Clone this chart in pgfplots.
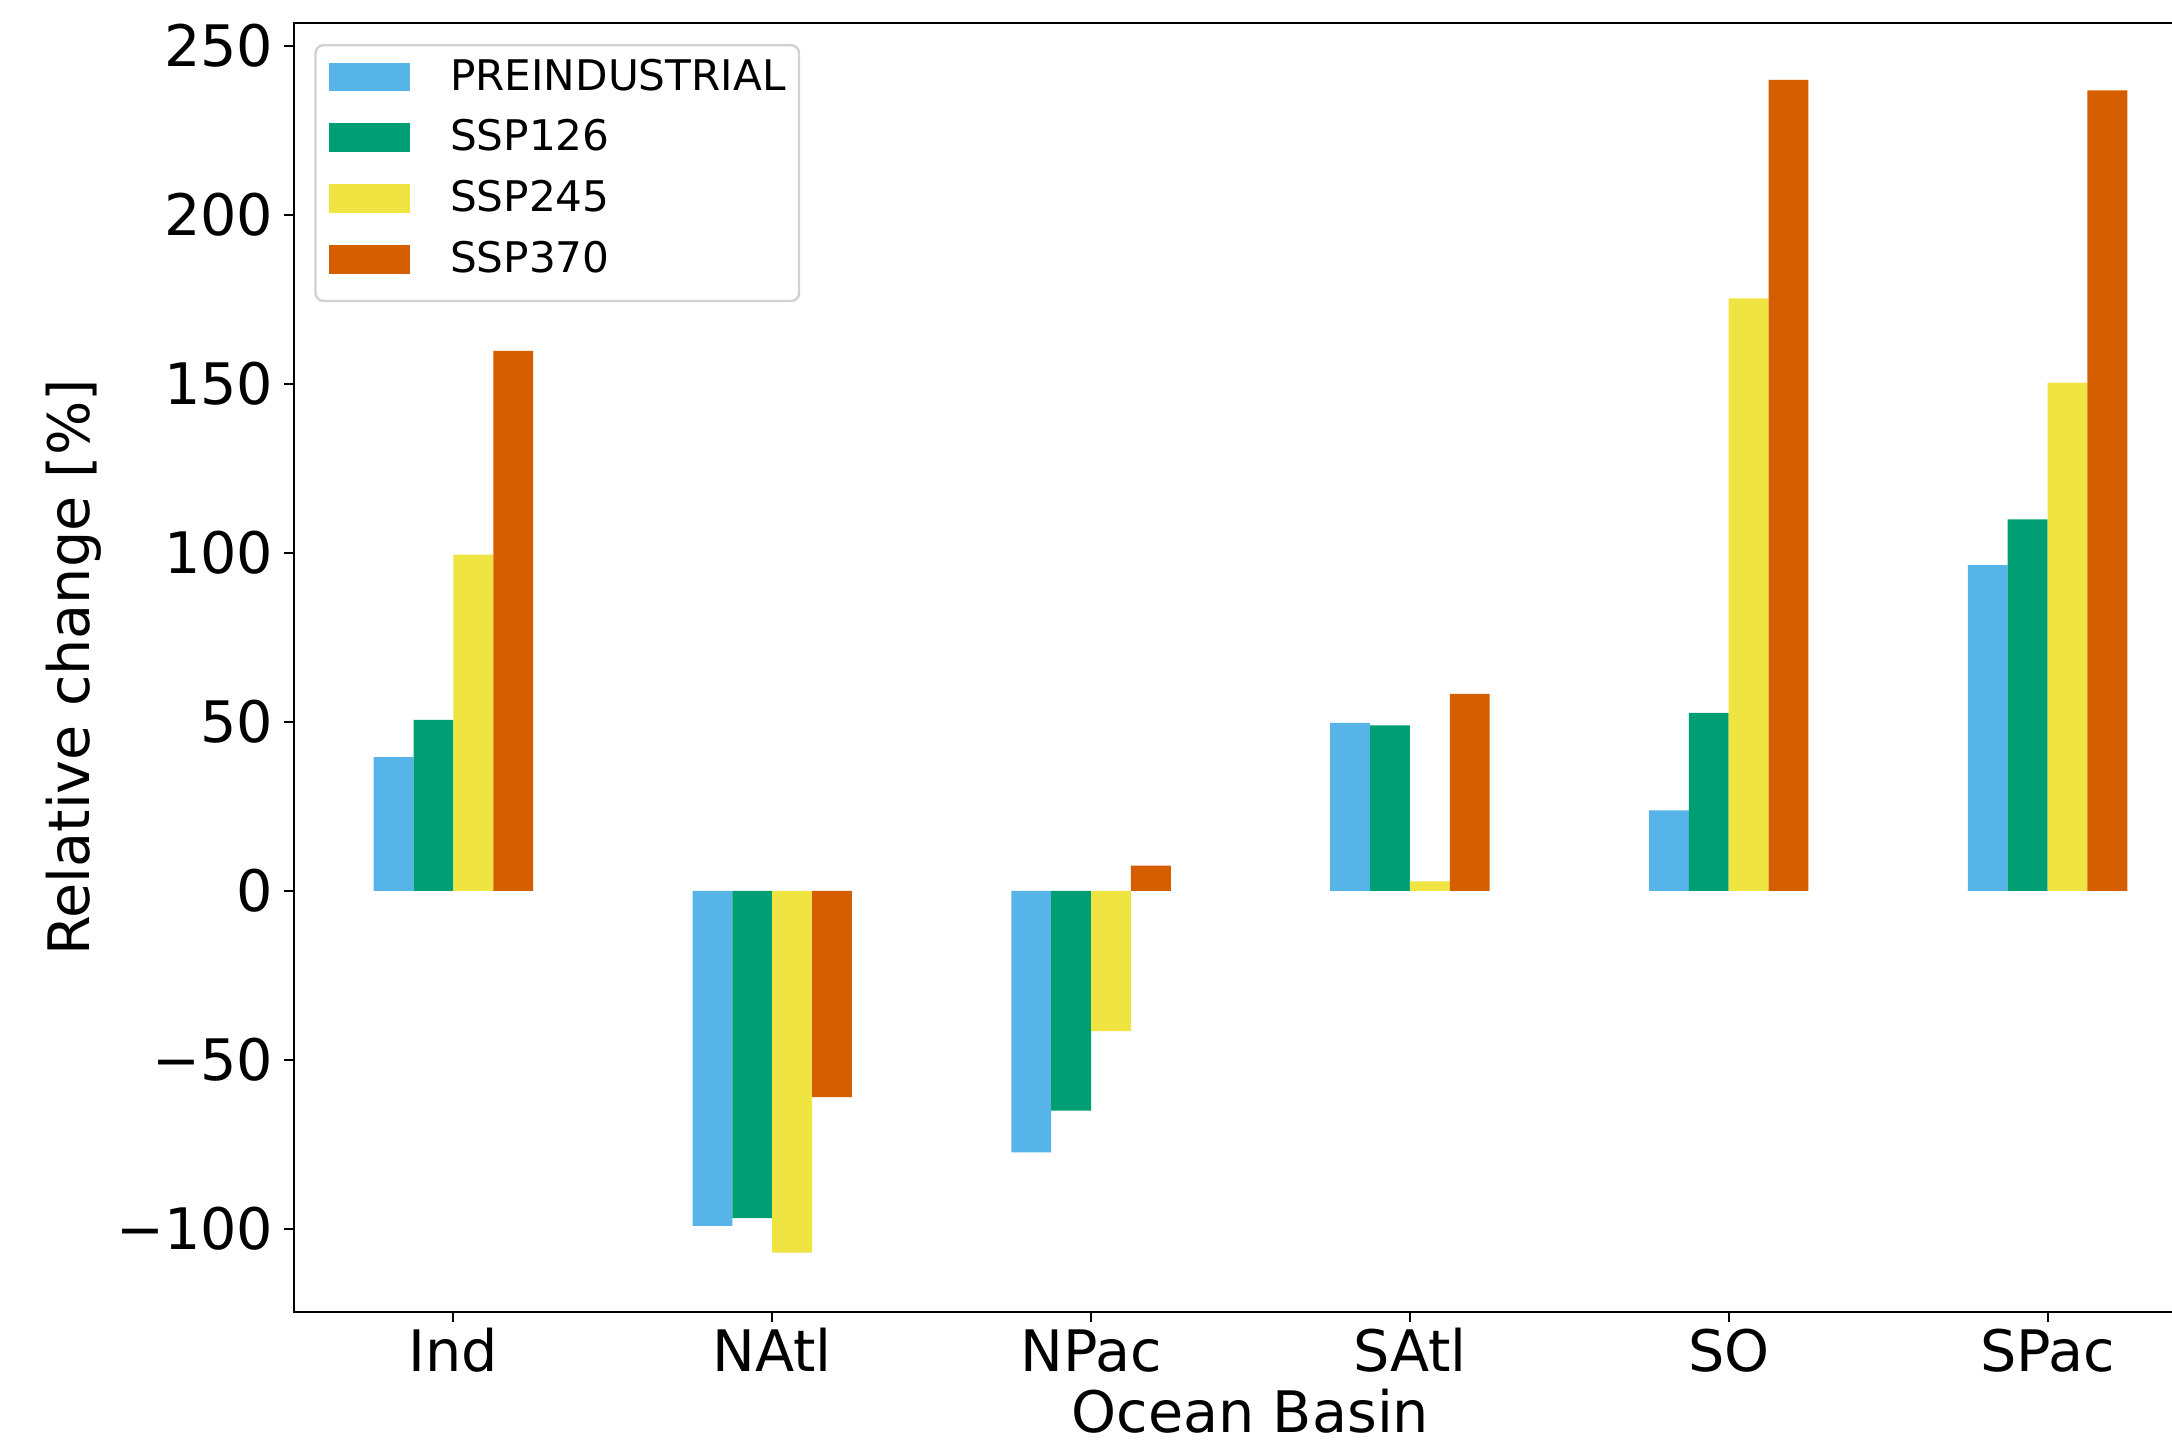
\documentclass[border=0pt]{standalone}
\usepackage{fontspec}
\setmainfont{DejaVu Sans}
\usepackage{pgfplots}
\pgfplotsset{compat=1.18}
\definecolor{cpre}{HTML}{56B4E9}
\definecolor{cssa}{HTML}{009E73}
\definecolor{cssb}{HTML}{F0E442}
\definecolor{cssc}{HTML}{D55E00}
\begin{document}
\begin{tikzpicture}
\begin{axis}[
  at={(0,0)}, anchor=south west,
  scale only axis, width=478.25pt, height=322.25pt,
  ybar, bar width=0.125,
  xmin=-0.5, xmax=5.5, ymin=-124.6, ymax=256.8,
  xtick={0,1,2,3,4,5}, xticklabels={Ind,NAtl,NPac,SAtl,SO,SPac},
  ytick={-100,-50,0,50,100,150,200,250},
  yticklabels={−100,−50,0,50,100,150,200,250},
  tick pos=left, tick align=outside,
  major tick length=2.5pt,
  major tick style={line width=0.5pt, black},
  axis line style={line width=0.65pt, black},
  xticklabel style={font=\fontsize{14.3}{17}\selectfont, anchor=base, inner sep=0pt, yshift=-12.4pt},
  yticklabel style={font=\fontsize{14.3}{17}\selectfont, anchor=east, inner sep=0pt, xshift=-2.5pt},
  xlabel={Ocean Basin},
  xlabel style={at={(axis description cs:0.5,-0.0935)}, anchor=base, inner sep=0pt, font=\fontsize{14.3}{17}\selectfont},
  ylabel={Relative change [\%]},
  ylabel style={at={(axis description cs:-0.1069,0.5)}, anchor=base, inner sep=0pt, font=\fontsize{14.3}{17}\selectfont},
  legend image code/.code={\fill[#1, sharp corners] (0pt,-2.375pt) rectangle (20.4pt,4.825pt);},
  legend style={at={(axis description cs:0.0106,0.9837)}, anchor=north west,
    draw=black!18, line width=0.6pt, rounded corners=2pt, fill=white,
    font=\fontsize{10.55}{12}\selectfont,
    inner xsep=3.35pt, inner ysep=2pt, row sep=0.85pt, column sep=9.9pt,
    nodes={inner xsep=0pt, inner ysep=0pt, text height=9.2pt, text depth=5.15pt},
    cells={anchor=west}},
]
\addplot[fill=cpre, draw=none, bar shift=-0.1875] coordinates {(0,39.6) (1,-99.1) (2,-77.4) (3,49.7) (4,23.8) (5,96.4)};
\addplot[fill=cssa, draw=none, bar shift=-0.0625] coordinates {(0,50.6) (1,-96.8) (2,-65.0) (3,49.0) (4,52.7) (5,109.9)};
\addplot[fill=cssb, draw=none, bar shift=0.0625] coordinates {(0,99.5) (1,-107.0) (2,-41.5) (3,2.8) (4,175.3) (5,150.4)};
\addplot[fill=cssc, draw=none, bar shift=0.1875] coordinates {(0,159.8) (1,-61.0) (2,7.5) (3,58.3) (4,240.0) (5,236.9)};
\legend{PREINDUSTRIAL,SSP126,SSP245,SSP370}
\end{axis}
\pgfresetboundingbox
\useasboundingbox (-73.5pt,-31.75pt) rectangle (469.5pt,328pt);
\end{tikzpicture}
\end{document}
